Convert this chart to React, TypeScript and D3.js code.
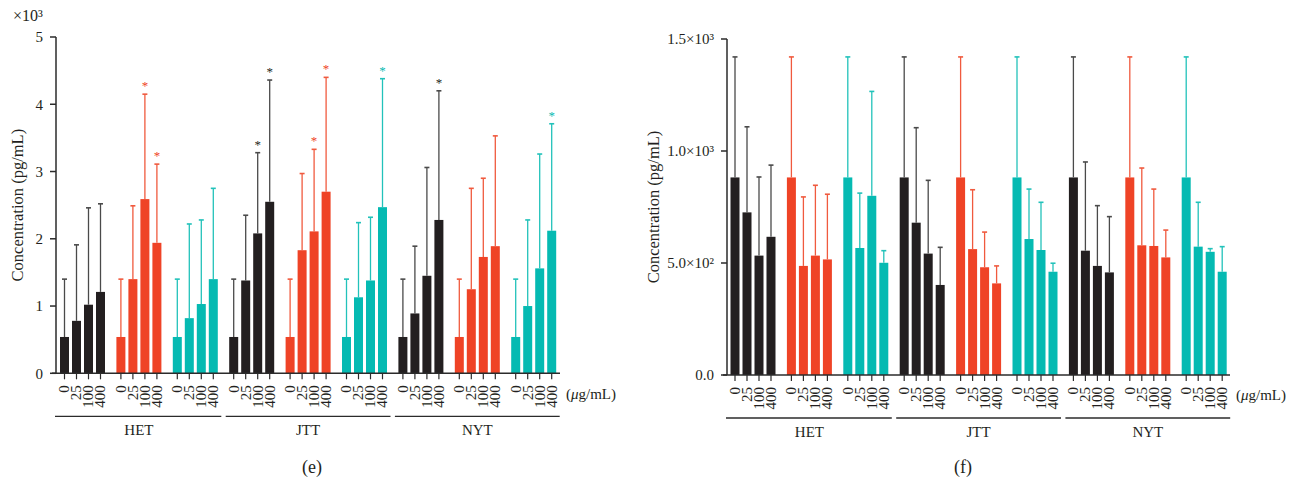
import React from "react";
import { scaleBand, scaleLinear, ScaleLinear } from "d3";

// categories
const drugs = ["HET", "JTT", "NYT"];
const doses = ["0", "25", "100", "400"];
const groupColors = ["#231f20", "#ef4326", "#05bab2"];
const errColors = ["#4a4a4a", "#f05a3e", "#22c2ba"];

// panel (e): values in x10^3 pg/mL, order drug -> colour group -> dose
const eMean = [
  0.54, 0.78, 1.02, 1.21, 0.54, 1.4, 2.59, 1.94, 0.54, 0.82, 1.03, 1.4,
  0.54, 1.38, 2.08, 2.55, 0.54, 1.83, 2.11, 2.7, 0.54, 1.13, 1.38, 2.47,
  0.54, 0.89, 1.45, 2.28, 0.54, 1.25, 1.73, 1.89, 0.54, 1.0, 1.56, 2.12,
];
const eUpper = [
  1.4, 1.91, 2.46, 2.52, 1.4, 2.49, 4.15, 3.11, 1.4, 2.22, 2.28, 2.75,
  1.4, 2.35, 3.28, 4.36, 1.4, 2.97, 3.33, 4.4, 1.4, 2.24, 2.32, 4.38,
  1.4, 1.89, 3.06, 4.2, 1.4, 2.75, 2.9, 3.53, 1.4, 2.28, 3.26, 3.71,
];
const eStar = [
  0, 0, 0, 0, 0, 0, 1, 1, 0, 0, 0, 0,
  0, 0, 1, 1, 0, 0, 1, 1, 0, 0, 0, 1,
  0, 0, 0, 1, 0, 0, 0, 0, 0, 0, 0, 1,
];
const eTicks = [0, 1, 2, 3, 4, 5];
const eTickLabels = ["0", "1", "2", "3", "4", "5"];

// panel (f): values in pg/mL
const fMean = [
  882, 726, 533, 617, 882, 487, 533, 516, 882, 567, 800, 501,
  882, 680, 542, 402, 882, 562, 481, 409, 882, 607, 558, 461,
  882, 555, 487, 458, 882, 579, 576, 525, 882, 573, 550, 461,
];
const fUpper = [
  1420, 1108, 884, 937, 1420, 795, 847, 807, 1420, 812, 1266, 555,
  1420, 1104, 869, 570, 1420, 827, 638, 487, 1420, 830, 771, 499,
  1420, 951, 756, 707, 1420, 924, 830, 647, 1420, 771, 564, 573,
];
const fTicks = [0, 500, 1000, 1500];
const fTickLabels = ["0.0", "5.0×10²", "1.0×10³", "1.5×10³"];

const FONT = "Liberation Serif, Times New Roman, serif";
const AXIS = "#2b2b2b";
const txt = { fontFamily: FONT };

type PanelProps = {
  x0: number;
  axisX: number;
  axisEnd: number;
  y: ScaleLinear<number, number>;
  ticks: number[];
  tickLabels: string[];
  mean: number[];
  upper: number[];
  star?: number[];
  labelX: number;
  letter: string;
  letterX: number;
};

const Panel = ({ x0, axisX, axisEnd, y, ticks, tickLabels, mean, upper, star, labelX, letter, letterX }: PanelProps) => {
  const groups = Array.from({ length: drugs.length * groupColors.length }, (_, i) => i);
  const outer = scaleBand<number>().domain(groups).range([x0, x0 + 499.2]).paddingInner(0.149);
  const inner = scaleBand<string>().domain(doses).range([0, outer.bandwidth()]).paddingInner(0.25).paddingOuter(0.125);
  const base = y(0);
  const top = y(ticks[ticks.length - 1]);

  return (
    <g style={txt} fill="#231f20">
      {/* bars + error bars */}
      {groups.map((g) =>
        doses.map((d, j) => {
          const idx = g * doses.length + j;
          const c = g % groupColors.length;
          const bx = (outer(g) as number) + (inner(d) as number);
          const cx = bx + inner.bandwidth() / 2;
          const yt = y(mean[idx]);
          const ye = y(upper[idx]);
          return (
            <g key={idx}>
              <rect x={bx} y={yt} width={inner.bandwidth()} height={base - yt} fill={groupColors[c]} />
              <line x1={cx} x2={cx} y1={yt} y2={ye} stroke={errColors[c]} strokeWidth={1.3} />
              <line x1={cx - 2.5} x2={cx + 2.5} y1={ye} y2={ye} stroke={errColors[c]} strokeWidth={1.6} />
              {star && star[idx] ? (
                <text x={cx} y={ye - 4} textAnchor="middle" fontSize={13} fill={groupColors[c]} style={txt}>
                  *
                </text>
              ) : null}
              <line x1={cx} x2={cx} y1={base} y2={base + 6} stroke={AXIS} strokeWidth={1.2} />
              <text
                transform={`translate(${cx},${base + 12}) rotate(-90)`}
                textAnchor="end"
                dy="0.33em"
                fontSize={15}
                style={txt}
              >
                {d}
              </text>
            </g>
          );
        })
      )}

      {/* y axis */}
      <line x1={axisX} x2={axisX} y1={base} y2={top} stroke={AXIS} strokeWidth={1.5} />
      {ticks.map((t, i) => (
        <g key={t}>
          <line x1={axisX - 6} x2={axisX} y1={y(t)} y2={y(t)} stroke={AXIS} strokeWidth={1.5} />
          <text x={axisX - 13} y={y(t)} dy="0.35em" textAnchor="end" fontSize={15} style={txt}>
            {tickLabels[i]}
          </text>
        </g>
      ))}
      {/* x axis */}
      <line x1={axisX - 4} x2={axisEnd} y1={base} y2={base} stroke={AXIS} strokeWidth={1.5} />
      <text x={axisEnd + 6} y={base + 20} dy="0.35em" fontSize={15} style={txt}>
        (<tspan fontStyle="italic">μ</tspan>g/mL)
      </text>

      {/* drug brackets */}
      {drugs.map((dr, k) => {
        const first = outer(k * 3) as number;
        const last = (outer(k * 3 + 2) as number) + outer.bandwidth();
        const xa = k === 0 ? axisX - 1 : first - 2;
        return (
          <g key={dr}>
            <line x1={xa} x2={last + 2} y1={base + 43} y2={base + 43} stroke={AXIS} strokeWidth={1.3} />
            <text x={(first + last) / 2} y={base + 62} textAnchor="middle" fontSize={15} style={txt}>
              {dr}
            </text>
          </g>
        );
      })}

      <text
        transform={`translate(${labelX},${(base + top) / 2}) rotate(-90)`}
        textAnchor="middle"
        dy="0.35em"
        fontSize={16.5}
        style={txt}
      >
        Concentration (pg/mL)
      </text>
      <text x={letterX} y={473} textAnchor="middle" fontSize={18} style={txt}>
        {letter}
      </text>
    </g>
  );
};

export default function App() {
  const yE = scaleLinear().domain([0, 5]).range([373.3, 37]);
  const yF = scaleLinear().domain([0, 1500]).range([375, 39]);
  return (
    <svg
      width={1290}
      height={481}
      style={{ position: "absolute", left: 0, top: 0, background: "#fff" }}
    >
      <rect width={1290} height={481} fill="#fff" />
      <text x={13} y={21} fontSize={16} fill="#231f20" style={txt}>
        ×10³
      </text>
      <Panel
        x0={58.5}
        axisX={56}
        axisEnd={560}
        y={yE}
        ticks={eTicks}
        tickLabels={eTickLabels}
        mean={eMean}
        upper={eUpper}
        star={eStar}
        labelX={17}
        letter="(e)"
        letterX={312}
      />
      <Panel
        x0={729}
        axisX={727}
        axisEnd={1230}
        y={yF}
        ticks={fTicks}
        tickLabels={fTickLabels}
        mean={fMean}
        upper={fUpper}
        labelX={653}
        letter="(f)"
        letterX={963}
      />
    </svg>
  );
}
